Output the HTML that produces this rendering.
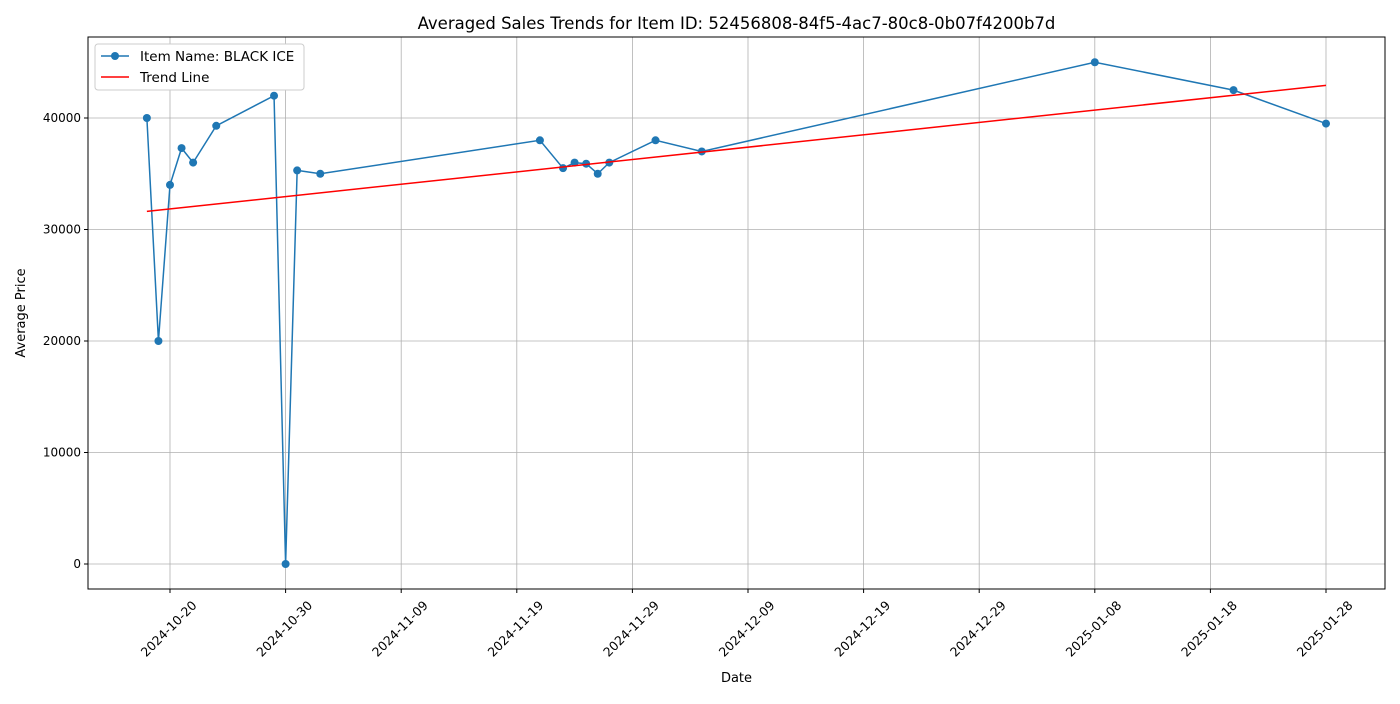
<!DOCTYPE html>
<html><head><meta charset="utf-8"><style>
body{margin:0;background:#fff;font-family:"DejaVu Sans","Liberation Sans",sans-serif}
</style></head><body>
<svg id="chart" width="1400" height="700" font-family="DejaVu Sans, Liberation Sans, sans-serif"></svg>
<script>
const dates=["2024-10-18","2024-10-19","2024-10-20","2024-10-21","2024-10-22","2024-10-24","2024-10-29","2024-10-30","2024-10-31","2024-11-02","2024-11-21","2024-11-23","2024-11-24","2024-11-25","2024-11-26","2024-11-27","2024-12-01","2024-12-05","2025-01-08","2025-01-20","2025-01-28"];
const prices=[40000,20000,34000,37300,36000,39300,42000,0,35300,35000,38000,35500,36000,35900,35000,36000,38000,37000,45000,42500,39500];
const xTickLabels=["2024-10-20","2024-10-30","2024-11-09","2024-11-19","2024-11-29","2024-12-09","2024-12-19","2024-12-29","2025-01-08","2025-01-18","2025-01-28"];
const yTicks=[0,10000,20000,30000,40000];

const NS="http://www.w3.org/2000/svg";
const svg=document.getElementById('chart');
const L=88,R=1385,T=37,B=589;
const day=s=>Date.parse(s+"T00:00:00Z")/86400000;
const d0=day("2024-10-20");
const X=s=>170+(day(s)-d0)*11.56;
const Y=v=>564-v*0.01115;
function mk(tag,attrs,parent){const e=document.createElementNS(NS,tag);for(const k in attrs)e.setAttribute(k,attrs[k]);(parent||svg).appendChild(e);return e;}

yTicks.forEach(v=>{
  const g=mk('line',{x1:L,x2:R,y1:Y(v),y2:Y(v),stroke:'#b0b0b0','stroke-width':0.8});
  
  
  mk('line',{x1:L-4,x2:L,y1:Y(v),y2:Y(v),stroke:'#000'});
  const t=mk('text',{x:L-7,y:Y(v)+4,'text-anchor':'end','font-size':12});
  t.textContent=v;
  
  
});
xTickLabels.forEach(s=>{
  const x=X(s);
  const g=mk('line',{x1:x,x2:x,y1:T,y2:B,stroke:'#b0b0b0','stroke-width':0.8});
  
  
  mk('line',{x1:x,x2:x,y1:B,y2:B+4,stroke:'#000'});
  const cy=B+40;
  const t=mk('text',{x:x-1,y:cy+4,'text-anchor':'middle','font-size':12.5,transform:`rotate(-45 ${x-1} ${cy})`});
  t.textContent=s;
  
  
});

const pts=dates.map((d,i)=>[X(d),Y(prices[i])]);
const line=mk('polyline',{points:pts.map(p=>p.join(',')).join(' '),fill:'none',stroke:'#1f77b4','stroke-width':1.5});


pts.forEach(p=>{
  const c=mk('circle',{cx:p[0],cy:p[1],r:4,fill:'#1f77b4'});
  
  
});

const xs=dates.map(day),n=xs.length;
const mx=xs.reduce((a,b)=>a+b)/n,my=prices.reduce((a,b)=>a+b)/n;
let sxy=0,sxx=0;xs.forEach((x,i)=>{sxy+=(x-mx)*(prices[i]-my);sxx+=(x-mx)**2;});
const m=sxy/sxx,b=my-m*mx;
const tl=mk('line',{x1:X(dates[0]),y1:Y(m*xs[0]+b),x2:X(dates[n-1]),y2:Y(m*xs[n-1]+b),stroke:'red','stroke-width':1.5});



const fr=mk('rect',{x:L,y:T,width:R-L,height:B-T,fill:'none',stroke:'#000','stroke-width':1});



const tt=mk('text',{x:(L+R)/2,y:29,'text-anchor':'middle','font-size':16.5});
tt.textContent="Averaged Sales Trends for Item ID: 52456808-84f5-4ac7-80c8-0b07f4200b7d";


const xt=mk('text',{x:(L+R)/2,y:682,'text-anchor':'middle','font-size':13});
xt.textContent="Date";


const yt=mk('text',{x:25,y:313,'text-anchor':'middle','font-size':13,transform:'rotate(-90 25 313)'});
yt.textContent="Average Price";



const lg=mk('g',{});


mk('rect',{x:95,y:44,width:209,height:46,rx:3,fill:'#fff',stroke:'#ccc'},lg);
mk('line',{x1:101,x2:129,y1:56,y2:56,stroke:'#1f77b4','stroke-width':1.5},lg);
mk('circle',{cx:115,cy:56,r:4,fill:'#1f77b4'},lg);
const l1=mk('text',{x:140,y:61,'font-size':13.5},lg);l1.textContent="Item Name: BLACK ICE";


mk('line',{x1:101,x2:129,y1:77,y2:77,stroke:'red','stroke-width':1.5},lg);
const l2=mk('text',{x:140,y:82,'font-size':13.5},lg);l2.textContent="Trend Line";


</script>
</body></html>
